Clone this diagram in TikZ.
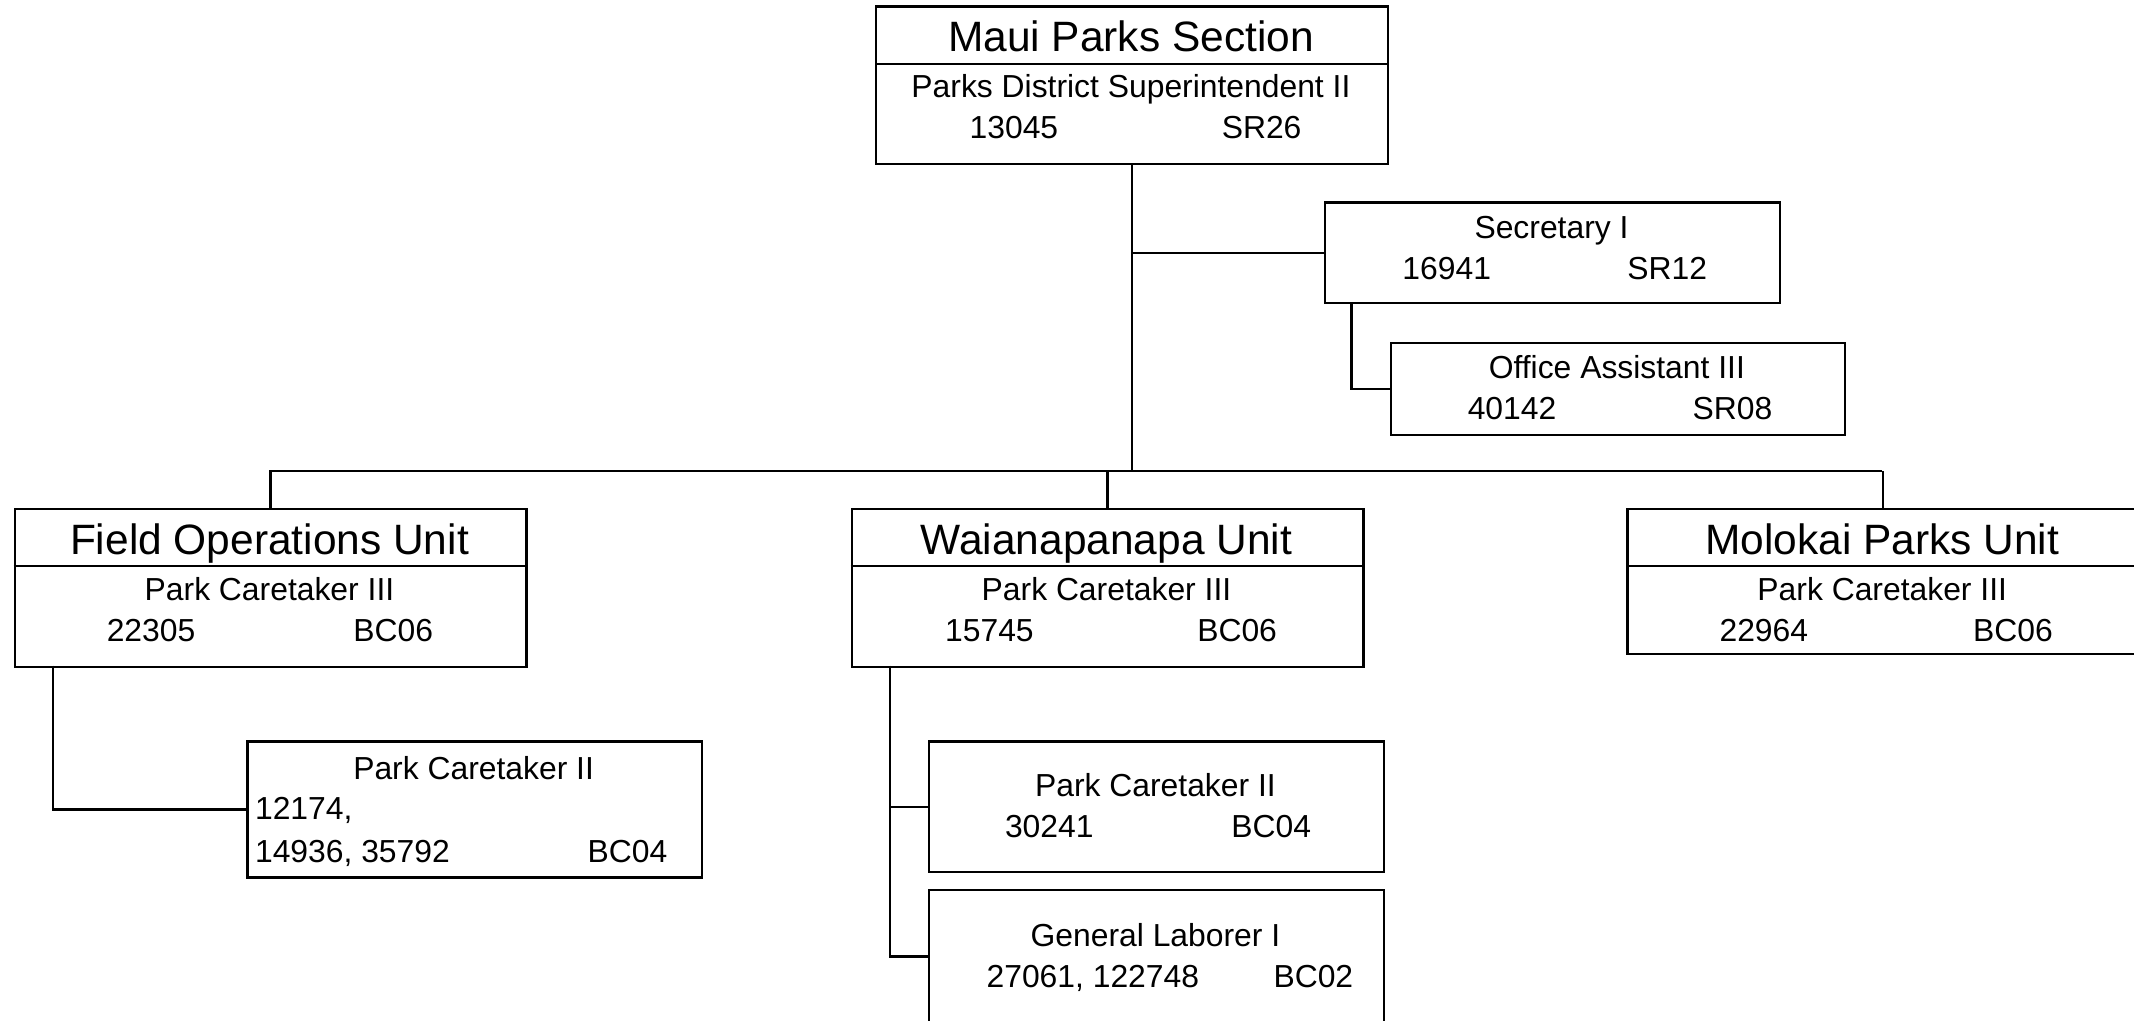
\documentclass[tikz,border=0pt]{standalone}
\usepackage{fontspec}
\setmainfont{Liberation Sans}
\begin{document}
\begin{tikzpicture}[x=0.5pt, y=-0.5pt,
  box/.style={draw,line width=0.8pt,rectangle,inner sep=0pt,anchor=north west},
  ttl/.style={font=\fontsize{15.6}{19}\selectfont,inner sep=0pt,text height=11.2pt,text depth=0pt},
  txt/.style={font=\fontsize{11.7}{14}\selectfont,inner sep=0pt,text height=8.4pt,text depth=0pt},
  link/.style={line width=0.8pt}]
\useasboundingbox (0,0) rectangle (1568,750);
\node[box,minimum width=188pt,minimum height=58pt] (top) at (643,4) {};
\draw[link] (643,47) -- (1019,47);
\node[ttl] (topT) at (831,27) {Maui Parks Section};
\node[txt] (topJ) at (831,63) {Parks District Superintendent II};
\node[txt] (topN) at (745,93) {13045};
\node[txt] (topR) at (927,93) {SR26};
\node[box,minimum width=167pt,minimum height=37pt] (sec) at (973,148) {};
\node[txt] (secJ) at (1140,167) {Secretary I};
\node[txt] (secN) at (1063,197) {16941};
\node[txt] (secR) at (1225,197) {SR12};
\node[box,minimum width=167pt,minimum height=34pt] (office) at (1021,251) {};
\node[txt] (officeJ) at (1188,270) {Office Assistant III};
\node[txt] (officeN) at (1111,300) {40142};
\node[txt] (officeR) at (1273,300) {SR08};
\node[box,minimum width=188pt,minimum height=58pt] (field) at (10,373) {};
\draw[link] (10,416) -- (386,416);
\node[ttl] (fieldT) at (198,396) {Field Operations Unit};
\node[txt] (fieldJ) at (198,433) {Park Caretaker III};
\node[txt] (fieldN) at (111,463) {22305};
\node[txt] (fieldR) at (289,463) {BC06};
\node[box,minimum width=188pt,minimum height=58pt] (wai) at (625,373) {};
\draw[link] (625,416) -- (1001,416);
\node[ttl] (waiT) at (813,396) {Waianapanapa Unit};
\node[txt] (waiJ) at (813,433) {Park Caretaker III};
\node[txt] (waiN) at (727,463) {15745};
\node[txt] (waiR) at (909,463) {BC06};
\node[box,minimum width=188pt,minimum height=53.5pt] (molo) at (1195,373) {};
\draw[link] (1195,416) -- (1571,416);
\node[ttl] (moloT) at (1383,396) {Molokai Parks Unit};
\node[txt] (moloJ) at (1383,433) {Park Caretaker III};
\node[txt] (moloN) at (1296,463) {22964};
\node[txt] (moloR) at (1479,463) {BC06};
\node[box,minimum width=167pt,minimum height=50pt] (fchild) at (181,544) {};
\node[txt] (fchildJ) at (348,564) {Park Caretaker II};
\node[txt,anchor=west] (fchildN) at (187,594) {12174,};
\node[txt,anchor=west] (fchildM) at (187,625) {14936, 35792};
\node[txt] (fchildR) at (461,625) {BC04};
\node[box,minimum width=167pt,minimum height=48pt] (wpc) at (682,544) {};
\node[txt] (wpcJ) at (849,577) {Park Caretaker II};
\node[txt] (wpcN) at (771,607) {30241};
\node[txt] (wpcR) at (934,607) {BC04};
\node[box,minimum width=167pt,minimum height=49pt] (wgl) at (682,653) {};
\node[txt] (wglJ) at (849,687) {General Laborer I};
\node[txt] (wglN) at (803,717) {27061, 122748};
\node[txt] (wglR) at (965,717) {BC02};
\coordinate (busL) at (198,346);
\coordinate (busR) at (1383,346);
\coordinate (secDrop) at (993,222);
\coordinate (fieldDrop) at (39,489);
\coordinate (waiDrop) at (654,489);
\draw[link] (top.south) -- (top.south |- busL);
\draw[link] (busL) -- (busR);
\draw[link] (field.north) -- (field.north |- busL);
\draw[link] (wai.north) -- (wai.north |- busL);
\draw[link] (molo.north) -- (molo.north |- busL);
\draw[link] (top.south |- sec.west) -- (sec.west);
\draw[link] (secDrop) |- (office.west);
\draw[link] (fieldDrop) |- (fchild.west);
\draw[link] (waiDrop) |- (wgl.west);
\draw[link] (waiDrop |- wpc.west) -- (wpc.west);
\end{tikzpicture}
\end{document}
